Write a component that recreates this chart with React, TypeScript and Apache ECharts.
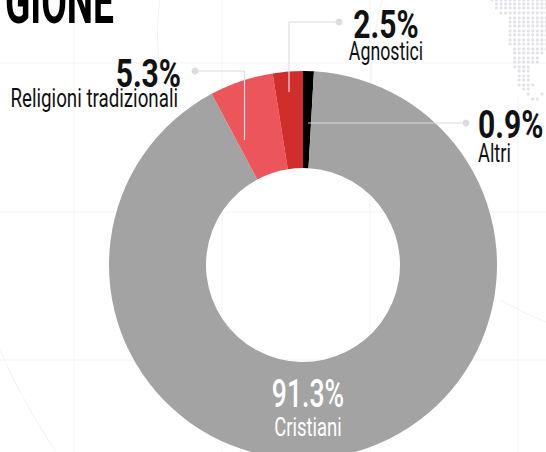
import React, { useEffect, useRef } from "react";
import * as echarts from "echarts";

const categories = ["Altri", "Cristiani", "Religioni tradizionali", "Agnostici"];
const values = [0.9, 91.3, 5.3, 2.5];
const colors = ["#000000", "#a3a3a3", "#ec555a", "#cf2e2a"];
const FONT = "Roboto, sans-serif";

// decorative dotted map: [row y, first column, last column]
const mapRows = [
  [0, 0, 12], [4, 1, 12], [8, 1, 12], [13, 2, 12], [18, 4, 12], [22, 4, 12], [26, 4, 12], [31, 4, 12],
  [35, 4, 12], [40, 4, 12], [44, 4, 12], [49, 5, 12], [53, 5, 11], [58, 5, 10], [62, 5, 10], [67, 5, 8],
  [71, 6, 8], [76, 6, 8], [80, 6, 8], [85, 6, 9], [89, 7, 8], [94, 8, 8], [99, 9, 10],
];

const pct = (v: number) => `${v.toFixed(1)}%`;

function text(t: string, x: number, y: number, size: number, sx: number, fill: string, align: string, weight: any = "bold") {
  return {
    type: "text", x, y, scaleX: sx, silent: true, z: 10,
    style: { text: t, fontFamily: FONT, fontSize: size, fontWeight: weight, fill, align, verticalAlign: "middle" },
  };
}
function leader(points: number[][], dot: number[]) {
  return [
    { type: "polyline", silent: true, z: 9, shape: { points }, style: { stroke: "#dcdce4", lineWidth: 1.2, fill: "none" } },
    { type: "circle", silent: true, z: 9, shape: { cx: dot[0], cy: dot[1], r: 3.5 }, style: { fill: "#dcdce4" } },
  ];
}
const BG = "#f3f3f5";
const bg = (x1: number, y1: number, x2: number, y2: number) => ({
  type: "line", silent: true, z: 0, shape: { x1, y1, x2, y2 }, style: { stroke: BG, lineWidth: 1 },
});
const curve = (x1: number, y1: number, cpx1: number, cpy1: number, cpx2: number, cpy2: number, x2: number, y2: number) => ({
  type: "bezierCurve", silent: true, z: 0, shape: { x1, y1, cpx1, cpy1, cpx2, cpy2, x2, y2 }, style: { stroke: BG, lineWidth: 1, fill: "none" },
});

export default function App() {
  const ref = useRef<HTMLDivElement>(null);
  useEffect(() => {
    const chart = echarts.init(ref.current!, null, { renderer: "svg" });
    const dots: any[] = [];
    mapRows.forEach(([y, a, b]) => {
      for (let c = a; c <= b; c++) {
        dots.push({ type: "circle", silent: true, z: 1, shape: { cx: 492 + c * 4.53, cy: y, r: 1.6 }, style: { fill: "#e2e2e8" } });
      }
    });
    dots.push({ type: "circle", silent: true, z: 1, shape: { cx: 542, cy: 94, r: 1.6 }, style: { fill: "#e2e2e8" } });
    chart.setOption({
      animation: false,
      backgroundColor: "#ffffff",
      series: [{
        type: "pie",
        center: [303, 265],
        radius: [97, 194],
        startAngle: 90,
        clockwise: true,
        silent: true,
        label: { show: false },
        labelLine: { show: false },
        data: categories.map((name, i) => ({ name, value: values[i], itemStyle: { color: colors[i] } })),
      }],
      graphic: [
        bg(0, 63, 546, 63), bg(0, 212, 546, 212), bg(0, 360, 546, 360),
        bg(74, 0, 74, 452), bg(222, 0, 222, 452), bg(370, 0, 370, 452), bg(518, 95, 518, 452),
        curve(160, 0, 156, 25, 156, 60, 165, 95),
        curve(0, 350, 15, 385, 35, 420, 56, 452),
        curve(500, 300, 515, 308, 530, 316, 546, 322),
        curve(382, 0, 375, 25, 372, 55, 371, 85),
        ...dots,
        text("GIONE", 5, 2, 62, 0.6, "#000000", "left"),
        ...leader([[244.5, 140], [244.5, 71], [195, 71]], [195, 71]),
        ...leader([[289, 92], [289, 22], [339, 22]], [339, 22]),
        ...leader([[308, 123], [466, 123]], [466, 123]),
        text(pct(values[2]), 181, 74, 38, 0.79, "#111111", "right"),
        text(categories[2], 178, 99, 25, 0.75, "#111111", "right", "normal"),
        text(pct(values[3]), 386, 25, 38, 0.79, "#111111", "center"),
        text(categories[3], 386, 51, 25, 0.71, "#111111", "center", "normal"),
        text(pct(values[0]), 478, 125, 38, 0.79, "#111111", "left"),
        text(categories[0], 478, 153, 25, 0.73, "#111111", "left", "normal"),
        text(pct(values[1]), 308, 394, 38, 0.7, "#ffffff", "center", 500),
        text(categories[1], 308, 427, 25, 0.74, "#ffffff", "center", "normal"),
      ],
    });
    return () => chart.dispose();
  }, []);
  return <div ref={ref} style={{ position: "fixed", left: 0, top: 0, width: 546, height: 452 }} />;
}
